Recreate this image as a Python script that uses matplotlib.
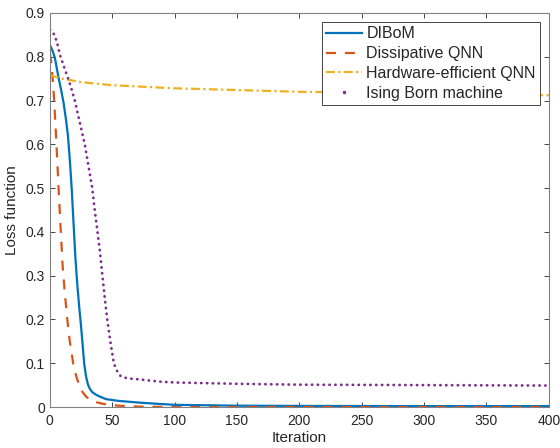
import matplotlib.pyplot as plt
from matplotlib.lines import Line2D

plt.rcParams['font.family'] = ['Liberation Sans', 'DejaVu Sans']

# values
dibom_it = [0, 2, 4, 7, 9, 11, 13, 14.5, 16, 17.5, 19, 20.5, 22, 23.5, 25, 26.5, 27.5, 29, 30.5, 32, 34,
            37, 40, 45, 55, 72, 88, 100, 150, 200, 300, 400]
dibom_loss = [0.827, 0.815, 0.798, 0.752, 0.725, 0.695, 0.655, 0.62, 0.565, 0.5, 0.42, 0.34, 0.28, 0.23,
              0.185, 0.135, 0.1, 0.07, 0.052, 0.042, 0.034, 0.028, 0.024, 0.018, 0.014, 0.01, 0.007,
              0.005, 0.003, 0.0025, 0.002, 0.002]

dqnn_it = [0, 1, 2, 3.5, 5.3, 7, 8.8, 10.3, 12, 14, 16, 18.7, 21, 23.5, 26, 29, 32, 36, 40, 45, 55, 70,
           100, 400]
dqnn_loss = [0.808, 0.79, 0.76, 0.7, 0.6, 0.5, 0.4, 0.32, 0.26, 0.2, 0.15, 0.1, 0.072, 0.05, 0.035,
             0.024, 0.017, 0.012, 0.009, 0.006, 0.003, 0.001, 0.0, 0.0]

hea_it = [0, 10, 25, 50, 100, 150, 200, 300, 400]
hea_loss = [0.758, 0.75, 0.742, 0.735, 0.728, 0.724, 0.72, 0.716, 0.712]

ibm_it = [0, 2, 4, 6, 8, 11, 14.7, 17, 20, 24, 28, 31, 34, 36, 38.2, 40, 41.4, 44, 46, 48.5, 51.3, 53,
          54.8, 57, 60, 64, 72, 88, 100, 150, 200, 300, 400]
ibm_loss = [0.862, 0.858, 0.848, 0.83, 0.805, 0.78, 0.75, 0.73, 0.7, 0.65, 0.6, 0.55, 0.5, 0.45, 0.4,
            0.36, 0.32, 0.25, 0.2, 0.15, 0.1, 0.088, 0.077, 0.07, 0.067, 0.065, 0.063, 0.058, 0.056,
            0.053, 0.051, 0.05, 0.049]

BLUE = '#0072BD'
ORANGE = '#D95319'
YELLOW = '#EDB120'
PURPLE = '#7E2F8E'
AXC = '#262626'

fig = plt.figure(figsize=(5.6, 4.48), dpi=100)
ax = fig.add_axes([0.089, 0.0915, 0.891, 0.8795])

ax.plot(dibom_it, dibom_loss, color=BLUE, lw=1.6)
ax.plot(dqnn_it, dqnn_loss, color=ORANGE, lw=1.6, dashes=(4.5, 4))
ax.plot(hea_it, hea_loss, color=YELLOW, lw=1.6, dashes=(4, 1.5, 1, 1.5))
ax.plot(ibm_it, ibm_loss, color=PURPLE, lw=2.0, linestyle=(0, (0.1, 2.0)), dash_capstyle='round')

ax.set_xlim(0, 400)
ax.set_ylim(0, 0.9)
ax.set_xticks(range(0, 401, 50))
ax.set_yticks([i / 10 for i in range(10)])
ax.set_yticklabels(['0'] + [f'{i / 10:.1f}' for i in range(1, 10)])
ax.tick_params(direction='in', top=True, right=True, length=3.5, width=0.6, colors=AXC,
               labelsize=10)
ax.tick_params(axis='y', pad=3.5)
ax.tick_params(axis='x', pad=5)
for s in ax.spines.values():
    s.set_color('#808080')
    s.set_linewidth(0.8)
ax.set_xlabel('Iteration', fontsize=11, color=AXC, labelpad=2)
ax.set_ylabel('Loss function', fontsize=11, color=AXC, labelpad=5)

handles = [Line2D([], [], color=BLUE, lw=1.6),
           Line2D([], [], color=ORANGE, lw=1.6, dashes=(4.5, 4)),
           Line2D([], [], color=YELLOW, lw=1.6, dashes=(4, 1.5, 1, 1.5)),
           Line2D([], [], color=PURPLE, lw=0, marker='.', markersize=3, markevery=[1])]
labels = ['DIBoM', 'Dissipative QNN', 'Hardware-efficient QNN', 'Ising Born machine']
leg = ax.legend(handles, labels, loc='upper right', bbox_to_anchor=(0.982, 0.976), fontsize=11.5,
                fancybox=False, framealpha=1, edgecolor=AXC, handlelength=2.25, handletextpad=0.3,
                borderpad=0.25, labelspacing=0.3, borderaxespad=0)
leg.get_frame().set_linewidth(0.6)
for t in leg.get_texts():
    t.set_color(AXC)

fig.savefig('out.png', dpi=100)
